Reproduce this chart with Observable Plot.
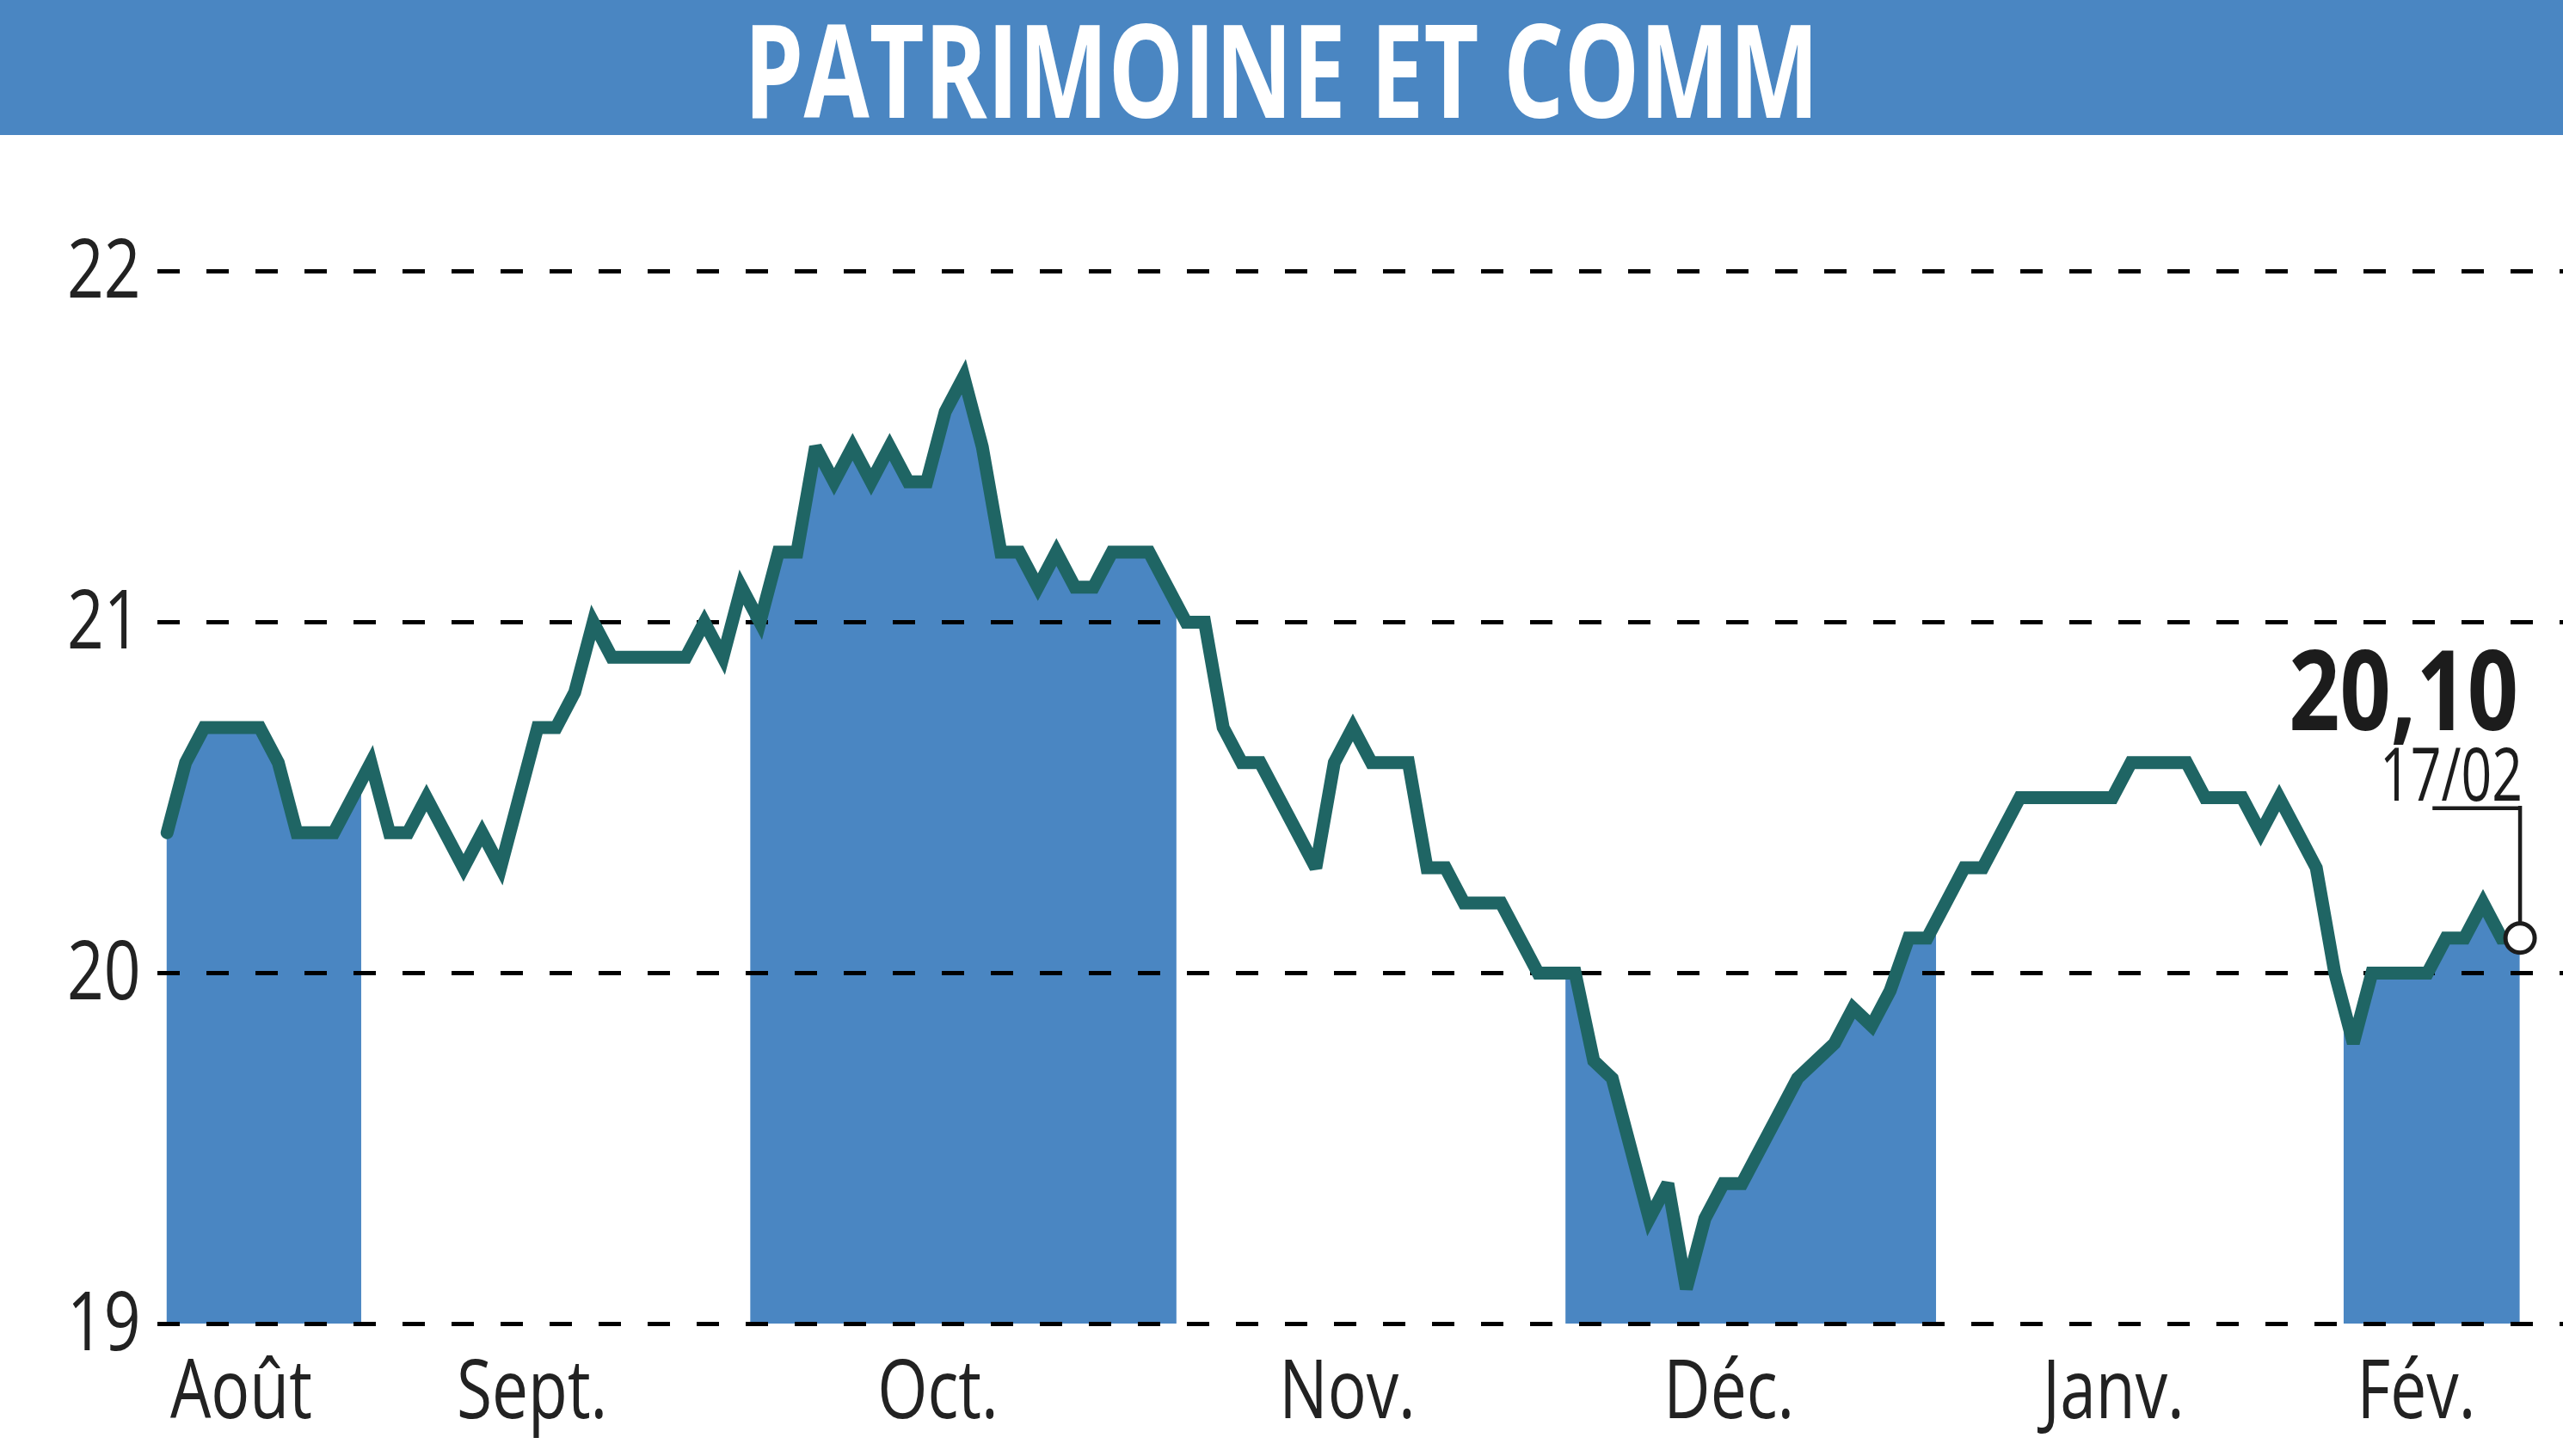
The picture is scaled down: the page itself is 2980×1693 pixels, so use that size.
<!DOCTYPE html>
<html>
<head>
<meta charset="utf-8">
<script src="https://cdn.jsdelivr.net/npm/d3@7"></script>
<script src="https://cdn.jsdelivr.net/npm/@observablehq/plot@0.6"></script>
<style>
html, body { margin: 0; padding: 0; background: #fff; }
body { width: 2980px; height: 1693px; overflow: hidden; font-family: "Open Sans", sans-serif; }
#banner { display: block; overflow: visible; }
#chart svg { display: block; }
</style>
</head>
<body>
<svg id="banner" width="2980" height="157">
  <rect width="2980" height="157" fill="#4a86c2"></rect>
  <text id="title" x="1490" y="137" text-anchor="middle" fill="#ffffff" font-family="'Open Sans', sans-serif" font-weight="700" font-size="151"></text>
</svg>
<div id="chart"></div>
<script>
// ---- data ----
const title = "PATRIMOINE ET COMM";
// one value per trading session, Aug -> 17/02
const prices = [
  20.4, 20.6, 20.7, 20.7, 20.7, 20.7, 20.6, 20.4, 20.4, 20.4, 20.5,
  20.6, 20.4, 20.4, 20.5, 20.4, 20.3, 20.4, 20.3, 20.5, 20.7, 20.7, 20.8, 21.0, 20.9, 20.9, 20.9, 20.9, 20.9, 21.0, 20.9, 21.1,
  21.0, 21.2, 21.2, 21.5, 21.4, 21.5, 21.4, 21.5, 21.4, 21.4, 21.6, 21.7, 21.5, 21.2, 21.2, 21.1, 21.2, 21.1, 21.1, 21.2, 21.2, 21.2, 21.1,
  21.0, 21.0, 20.7, 20.6, 20.6, 20.5, 20.4, 20.3, 20.6, 20.7, 20.6, 20.6, 20.6, 20.3, 20.3, 20.2, 20.2, 20.2, 20.1, 20.0, 20.0,
  20.0, 19.75, 19.7, 19.5, 19.3, 19.4, 19.1, 19.3, 19.4, 19.4, 19.5, 19.6, 19.7, 19.75, 19.8, 19.9, 19.85, 19.95, 20.1, 20.1,
  20.2, 20.3, 20.3, 20.4, 20.5, 20.5, 20.5, 20.5, 20.5, 20.5, 20.6, 20.6, 20.6, 20.6, 20.5, 20.5, 20.5, 20.4, 20.5, 20.4, 20.3, 20.0,
  19.8, 20.0, 20.0, 20.0, 20.0, 20.1, 20.1, 20.2, 20.1, 20.1
];
const months = ["Août", "Sept.", "Oct.", "Nov.", "Déc.", "Janv.", "Fév."];
const monthFirstSession = [0, 11, 32, 55, 76, 96, 118];
const monthLabelAt = [4, 19.7, 41.6, 63.7, 84.3, 105.1, 121.4];
const yTicks = [19, 20, 21, 22];
const lastDate = "17/02";

// ---- build ----
document.getElementById("title").textContent = title;

const data = prices.map((v, i) => ({i, v}));
const n = prices.length;
const bands = months.map((m, k) => ({
  month: m,
  x1: monthFirstSession[k] - 0.5,
  x2: (k + 1 < months.length ? monthFirstSession[k + 1] : n) - 0.5,
  shaded: k % 2 === 0
}));
const last = data[n - 1];
const valueLabel = last.v.toFixed(2).replace(".", ",");
const labelOf = new Map(monthLabelAt.map((p, k) => [p, months[k]]));

const blue = "#4a86c2";
const teal = "#1f6564";
const ink = "#1c1c1c";

const chart = Plot.plot({
  width: 2980,
  height: 1536,
  marginLeft: 183,
  marginRight: 0,
  marginTop: 158,
  marginBottom: 154,
  style: {fontFamily: "'Open Sans', sans-serif", fontSize: "96px", color: "#222", background: "white", overflow: "visible"},
  x: {domain: [-0.5, 129.34], ticks: monthLabelAt, tickFormat: d => labelOf.get(d), tickSize: 0, tickPadding: 41, label: null},
  y: {domain: [19, 22], ticks: yTicks, tickFormat: d => String(d), tickSize: 0, tickPadding: 20, label: null},
  marks: [
    Plot.areaY(data, {x: "i", y1: () => 19, y2: "v", fill: blue}),
    Plot.rect(bands.filter(b => !b.shaded), {x1: "x1", x2: "x2", y1: () => 19, y2: () => 22, fill: "white"}),
    Plot.ruleY(yTicks, {stroke: "#000", strokeWidth: 5, strokeDasharray: "26,31"}),
    Plot.line(data, {x: "i", y: "v", stroke: teal, strokeWidth: 15, strokeLinejoin: "miter", strokeMiterlimit: 3}),
    Plot.ruleX([last], {x: "i", y1: "v", y2: d => d.v + 0.37, stroke: ink, strokeWidth: 4.5, strokeLinecap: "square"}),
    Plot.ruleY([last], {y: d => d.v + 0.37, x1: d => d.i - 4.6, x2: "i", stroke: ink, strokeWidth: 4.5, strokeLinecap: "square"}),
    Plot.dot([last], {x: "i", y: "v", r: 17, fill: "white", stroke: ink, strokeWidth: 5}),
    Plot.text([last], {x: "i", y: "v", text: () => valueLabel, textAnchor: "end", lineAnchor: "bottom", dx: -2, dy: -242, fontSize: 129, fontWeight: 700, fill: ink}),
    Plot.text([last], {x: "i", y: "v", text: () => lastDate, textAnchor: "end", lineAnchor: "bottom", dx: 3, dy: -160, fontSize: 86, fontWeight: 400, fill: ink})
  ]
});
document.getElementById("chart").appendChild(chart);

// ---- condensed lettering (the original uses a condensed face) ----
function condense(el, s) {
  const b = el.getBBox();
  const anchor = getComputedStyle(el).textAnchor || "start";
  const ax = anchor === "middle" ? b.x + b.width / 2 : anchor === "end" ? b.x + b.width : b.x;
  const t = el.getAttribute("transform") || "";
  el.setAttribute("transform", `${t} translate(${ax},0) scale(${s},1) translate(${-ax},0)`.trim());
}
function condenseTo(el, target) {
  const b = el.getBBox();
  if (b.width > 0) condense(el, target / b.width);
}
condenseTo(document.getElementById("title"), 1250);
for (const t of chart.querySelectorAll("text")) {
  const s = t.textContent.trim();
  if (s === valueLabel) condenseTo(t, 267);
  else if (s === lastDate) condenseTo(t, 166);
  else if (s.length) condense(t, 0.78);
}
</script>
</body>
</html>
